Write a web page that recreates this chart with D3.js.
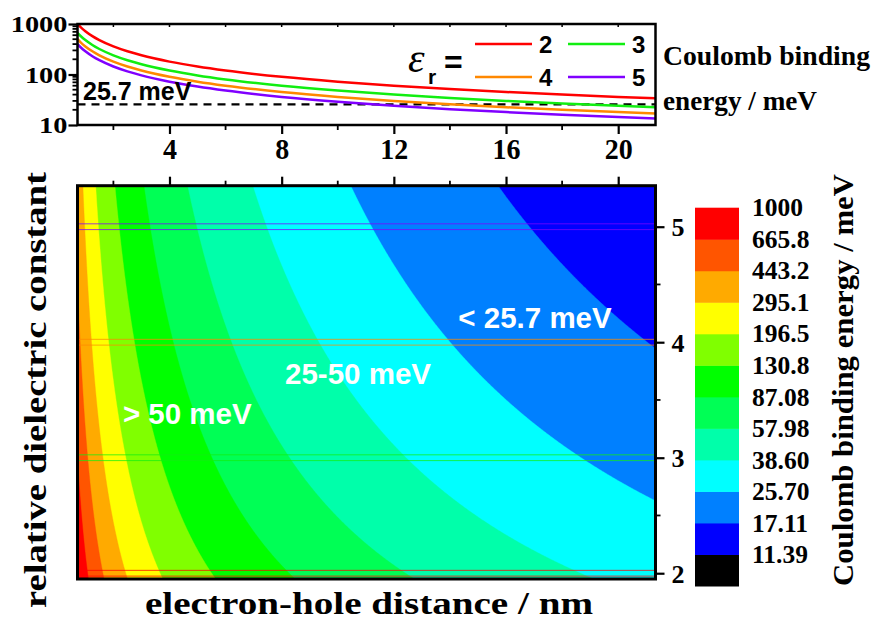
<!DOCTYPE html>
<html>
<head>
<meta charset="utf-8">
<script src="https://cdn.jsdelivr.net/npm/d3@7"></script>
<style>
  body { margin: 0; background: #fff; }
  svg { display: block; }
</style>
</head>
<body>
<script>
// ---- data -------------------------------------------------------------
// electron-hole separations (nm) at which the binding energies are listed
const distancesNm = [0.72, 0.85, 1, 1.25, 1.5, 2, 2.5, 3, 4, 5, 6, 8, 10, 12, 14, 16, 18, 20, 21.33];
// Coulomb binding energy (meV) for each relative dielectric constant
const energyEps2 = [1000, 847, 720, 576, 480, 360, 288, 240, 180, 144, 120, 90, 72, 60, 51.4, 45, 40, 36, 33.8];
const energyEps3 = [666.7, 564.7, 480, 384, 320, 240, 192, 160, 120, 96, 80, 60, 48, 40, 34.3, 30, 26.7, 24, 22.5];
const energyEps4 = [500, 423.5, 360, 288, 240, 180, 144, 120, 90, 72, 60, 45, 36, 30, 25.7, 22.5, 20, 18, 16.9];
const energyEps5 = [400, 338.8, 288, 230.4, 192, 144, 115.2, 96, 72, 57.6, 48, 36, 28.8, 24, 20.6, 18, 16, 14.4, 13.5];
const dielectricConstants = [2, 3, 4, 5];
const seriesColors = ["#ff0000", "#11ee11", "#ff8800", "#8000ff"];

// e^2 / (4 pi eps0) in meV*nm, used for the energy map E = k / (eps_r * r)
const COULOMB_MEV_NM = 1440;
const thermalEnergy = 25.7;

// contour levels (meV) and the fill of each band, lowest first
const contourLevels = [11.39, 17.11, 25.70, 38.60, 57.98, 87.08, 130.8, 196.5, 295.1, 443.2, 665.8, 1000];
const levelLabels = ["11.39", "17.11", "25.70", "38.60", "57.98", "87.08", "130.8", "196.5", "295.1", "443.2", "665.8", "1000"];
const bandColors = ["#000000", "#0000ff", "#0080ff", "#00ffff", "#00ffaa", "#00ff55",
                    "#00ff00", "#80ff00", "#ffff00", "#ffaa00", "#ff5500", "#ff0000"];

const topTicks = [10, 100, 1000];
const distanceTicks = [4, 8, 12, 16, 20];
const epsTicks = [2, 3, 4, 5];

// ---- layout -----------------------------------------------------------
const W = 874, H = 632;
const SERIF = "'Liberation Serif', 'Times New Roman', serif";
const SANS = "'Liberation Sans', Arial, sans-serif";

const svg = d3.select("body").append("svg").attr("width", W).attr("height", H);

const x = d3.scaleLinear().domain([0.72, 21.33]).range([77.5, 655.5]);
const yTop = d3.scaleLog().domain([10, 1000]).range([125, 24]);
const yEps = d3.scaleLinear().domain([1.95, 5.355]).range([579, 185.7]);

const left = x.range()[0], right = x.range()[1];

// ======================= upper panel: energy vs distance =================
const series = dielectricConstants.map((eps, k) => ({
  eps, color: seriesColors[k],
  values: [energyEps2, energyEps3, energyEps4, energyEps5][k]
}));

const line = d3.line()
  .x((d, i) => x(distancesNm[i]))
  .y(d => yTop(d))
  .curve(d3.curveMonotoneX);

const upper = svg.append("g");
upper.append("defs").append("clipPath").attr("id", "clipTop")
  .append("rect").attr("x", left).attr("y", yTop.range()[1])
  .attr("width", right - left).attr("height", yTop.range()[0] - yTop.range()[1]);

upper.append("line")
  .attr("x1", left).attr("x2", right)
  .attr("y1", yTop(thermalEnergy)).attr("y2", yTop(thermalEnergy))
  .attr("stroke", "#000").attr("stroke-width", 2.2).attr("stroke-dasharray", "8,6");

upper.append("g").attr("clip-path", "url(#clipTop)")
  .selectAll("path").data(series).join("path")
  .attr("d", d => line(d.values))
  .attr("fill", "none").attr("stroke", d => d.color).attr("stroke-width", 2.5);

upper.append("text").attr("x", 83).attr("y", 100)
  .attr("font-family", SANS).attr("font-weight", "bold").attr("font-size", 25)
  .text(thermalEnergy + " meV");

// frame
upper.append("rect").attr("x", left).attr("y", yTop.range()[1])
  .attr("width", right - left).attr("height", yTop.range()[0] - yTop.range()[1])
  .attr("fill", "none").attr("stroke", "#000").attr("stroke-width", 2.5);

// left log axis
const yAxisTop = d3.axisLeft(yTop).tickValues(topTicks).tickSize(9).tickFormat(d3.format("d"));
const gyt = upper.append("g").attr("transform", `translate(${left},0)`).call(yAxisTop);
const minorLog = [];
[10, 100].forEach(dec => { for (let m = 2; m <= 9; m++) minorLog.push(dec * m); });
gyt.selectAll(".minor").data(minorLog).join("line").attr("class", "minor")
  .attr("x1", 0).attr("x2", -5).attr("y1", d => yTop(d)).attr("y2", d => yTop(d))
  .attr("stroke", "#000").attr("stroke-width", 1.8);
gyt.selectAll(".tick text").attr("font-family", SERIF).attr("font-weight", "bold")
  .attr("font-size", 23).attr("fill", "#000").attr("x", -10).attr("dy", "0.34em")
  .attr("textLength", d => String(d).length * 14.2).attr("lengthAdjust", "spacingAndGlyphs");

// bottom distance axis
const xAxisTop = d3.axisBottom(x).tickValues(distanceTicks).tickSize(9).tickFormat(d3.format("d"));
const gxt = upper.append("g").attr("transform", `translate(0,${yTop.range()[0]})`).call(xAxisTop);
gxt.selectAll(".minor").data([2, 6, 10, 14, 18]).join("line").attr("class", "minor")
  .attr("x1", d => x(d)).attr("x2", d => x(d)).attr("y1", 0).attr("y2", 5)
  .attr("stroke", "#000").attr("stroke-width", 1.8);
gxt.selectAll(".tick text").attr("font-family", SERIF).attr("font-weight", "bold")
  .attr("font-size", 29).attr("fill", "#000").attr("y", 13).attr("dy", "0.71em")
  .attr("textLength", d => String(d).length * 14).attr("lengthAdjust", "spacingAndGlyphs");

// small inward ticks along the upper edge
upper.selectAll(".edgeTick").data([2, 4, 6, 8, 10, 12, 14, 16, 18, 20]).join("line")
  .attr("class", "edgeTick")
  .attr("x1", d => x(d)).attr("x2", d => x(d))
  .attr("y1", yTop.range()[1]).attr("y2", yTop.range()[1] + 3)
  .attr("stroke", "#000").attr("stroke-width", 1.5);

[gyt, gxt].forEach(g => {
  g.select(".domain").remove();
  g.selectAll(".tick line").attr("stroke", "#000").attr("stroke-width", 2.2);
});

// legend
const legendSlots = [
  { k: 0, lx: 475, ly: 44 }, { k: 1, lx: 568, ly: 44 },
  { k: 2, lx: 475, ly: 77 }, { k: 3, lx: 568, ly: 77 }
];
const legend = upper.append("g");
legendSlots.forEach(s => {
  legend.append("line").attr("x1", s.lx).attr("x2", s.lx + 57)
    .attr("y1", s.ly).attr("y2", s.ly)
    .attr("stroke", seriesColors[s.k]).attr("stroke-width", 2.5);
  legend.append("text").attr("x", s.lx + 64).attr("y", s.ly + 9)
    .attr("font-family", SANS).attr("font-weight", "bold").attr("font-size", 24)
    .text(dielectricConstants[s.k]);
});
legend.append("text").attr("x", 408).attr("y", 72)
  .attr("font-family", SERIF).attr("font-style", "italic")
  .attr("font-size", 42).text("\u03b5");
legend.append("text").attr("x", 428).attr("y", 84)
  .attr("font-family", SANS).attr("font-weight", "bold").attr("font-size", 21).text("r");
legend.append("text").attr("x", 444).attr("y", 73)
  .attr("font-family", SANS).attr("font-weight", "bold").attr("font-size", 32).text("=");

// right-hand label of the upper panel
upper.append("text").attr("x", 663).attr("y", 65)
  .attr("font-family", SERIF).attr("font-weight", "bold").attr("font-size", 27)
  .attr("textLength", 207).attr("lengthAdjust", "spacingAndGlyphs").text("Coulomb binding");
upper.append("text").attr("x", 663).attr("y", 110)
  .attr("font-family", SERIF).attr("font-weight", "bold").attr("font-size", 27)
  .attr("textLength", 154).attr("lengthAdjust", "spacingAndGlyphs").text("energy / meV");

// ======================= lower panel: energy map ==========================
const mTop = yEps.range()[1], mBot = yEps.range()[0];
const mW = right - left, mH = mBot - mTop;

const nx = 520, ny = 360;
const field = new Float64Array(nx * ny);
for (let j = 0; j < ny; j++) {
  const eps = yEps.invert(mTop + (j + 0.5) * mH / ny);
  for (let i = 0; i < nx; i++) {
    const r = x.invert(left + (i + 0.5) * mW / nx);
    field[j * nx + i] = COULOMB_MEV_NM / (eps * r);
  }
}
const bands = d3.contours().size([nx, ny])
  .thresholds(contourLevels.slice(0, contourLevels.length - 1))(field);

const gridToPx = d3.geoTransform({
  point(px, py) { this.stream.point(left + px * mW / nx, mTop + py * mH / ny); }
});
const bandPath = d3.geoPath(gridToPx);

const lower = svg.append("g");
lower.append("defs").append("clipPath").attr("id", "clipMain")
  .append("rect").attr("x", left).attr("y", mTop).attr("width", mW).attr("height", mH);

const mapG = lower.append("g").attr("clip-path", "url(#clipMain)");
mapG.append("rect").attr("x", left).attr("y", mTop).attr("width", mW).attr("height", mH)
  .attr("fill", bandColors[0]);
mapG.selectAll("path").data(bands).join("path")
  .attr("d", bandPath)
  .attr("fill", (d, i) => bandColors[i + 1])
  .attr("stroke", (d, i) => bandColors[i + 1]).attr("stroke-width", 0.4);

// thin outlines marking the four dielectric constants of the upper panel
mapG.selectAll(".epsBand").data(series).join("rect").attr("class", "epsBand")
  .attr("x", left + 1).attr("width", mW - 2)
  .attr("y", d => yEps(d.eps + 0.025))
  .attr("height", d => yEps(d.eps - 0.025) - yEps(d.eps + 0.025))
  .attr("fill", "none").attr("stroke", d => d.color)
  .attr("stroke-width", 1).attr("stroke-opacity", 0.75);

// region annotations
const annot = [
  { text: "> 50 meV", r: 2.34, eps: 3.29 },
  { text: "25-50 meV", r: 8.12, eps: 3.64 },
  { text: "< 25.7 meV", r: 14.30, eps: 4.12 }
];
mapG.selectAll(".annot").data(annot).join("text").attr("class", "annot")
  .attr("x", d => x(d.r)).attr("y", d => yEps(d.eps))
  .attr("font-family", SANS).attr("font-weight", "bold").attr("font-size", 29.5)
  .attr("fill", "#fff").text(d => d.text);

// frame
lower.append("rect").attr("x", left).attr("y", mTop).attr("width", mW).attr("height", mH)
  .attr("fill", "none").attr("stroke", "#000").attr("stroke-width", 3);

// ticks on the upper edge (shared distance scale)
const gxm = lower.append("g").attr("transform", `translate(0,${mTop})`)
  .call(d3.axisTop(x).tickValues(distanceTicks).tickSize(9).tickFormat(""));
gxm.selectAll(".minor").data([2, 6, 10, 14, 18]).join("line").attr("class", "minor")
  .attr("x1", d => x(d)).attr("x2", d => x(d)).attr("y1", 0).attr("y2", -5)
  .attr("stroke", "#000").attr("stroke-width", 1.8);

// right dielectric-constant axis
const gym = lower.append("g").attr("transform", `translate(${right},0)`)
  .call(d3.axisRight(yEps).tickValues(epsTicks).tickSize(9).tickFormat(d3.format("d")));
gym.selectAll(".minor").data([2.5, 3.5, 4.5]).join("line").attr("class", "minor")
  .attr("x1", 0).attr("x2", 5).attr("y1", d => yEps(d)).attr("y2", d => yEps(d))
  .attr("stroke", "#000").attr("stroke-width", 1.8);
gym.selectAll(".tick text").attr("font-family", SERIF).attr("font-weight", "bold")
  .attr("font-size", 26).attr("fill", "#000").attr("x", 16).attr("dy", "0.34em");

[gxm, gym].forEach(g => {
  g.select(".domain").remove();
  g.selectAll(".tick line").attr("stroke", "#000").attr("stroke-width", 2.2);
});

// axis titles
svg.append("text")
  .attr("transform", "translate(46,390) rotate(-90)")
  .attr("text-anchor", "middle")
  .attr("font-family", SERIF).attr("font-weight", "bold").attr("font-size", 32)
  .attr("textLength", 436).attr("lengthAdjust", "spacingAndGlyphs")
  .text("relative dielectric constant");
svg.append("text").attr("x", 369).attr("y", 614).attr("text-anchor", "middle")
  .attr("font-family", SERIF).attr("font-weight", "bold").attr("font-size", 32)
  .attr("textLength", 448).attr("lengthAdjust", "spacingAndGlyphs")
  .text("electron-hole distance / nm");

// ======================= colour scale =====================================
const nBands = bandColors.length;
const yBar = d3.scaleLinear().domain([0, nBands]).range([586, 207.7]);
const bar = svg.append("g");
bar.selectAll("rect").data(bandColors).join("rect")
  .attr("x", 695).attr("width", 44)
  .attr("y", (d, i) => yBar(i + 1))
  .attr("height", (d, i) => yBar(i) - yBar(i + 1) + 0.5)
  .attr("fill", d => d);
bar.selectAll("text").data(levelLabels).join("text")
  .attr("x", 752).attr("y", (d, i) => yBar(i + 1))
  .attr("dy", "0.34em")
  .attr("font-family", SERIF).attr("font-weight", "bold").attr("font-size", 25.5)
  .text(d => d);

svg.append("text")
  .attr("transform", "translate(853,380) rotate(-90)")
  .attr("text-anchor", "middle")
  .attr("font-family", SERIF).attr("font-weight", "bold").attr("font-size", 30)
  .attr("textLength", 412).attr("lengthAdjust", "spacingAndGlyphs")
  .text("Coulomb binding energy / meV");
</script>
</body>
</html>
